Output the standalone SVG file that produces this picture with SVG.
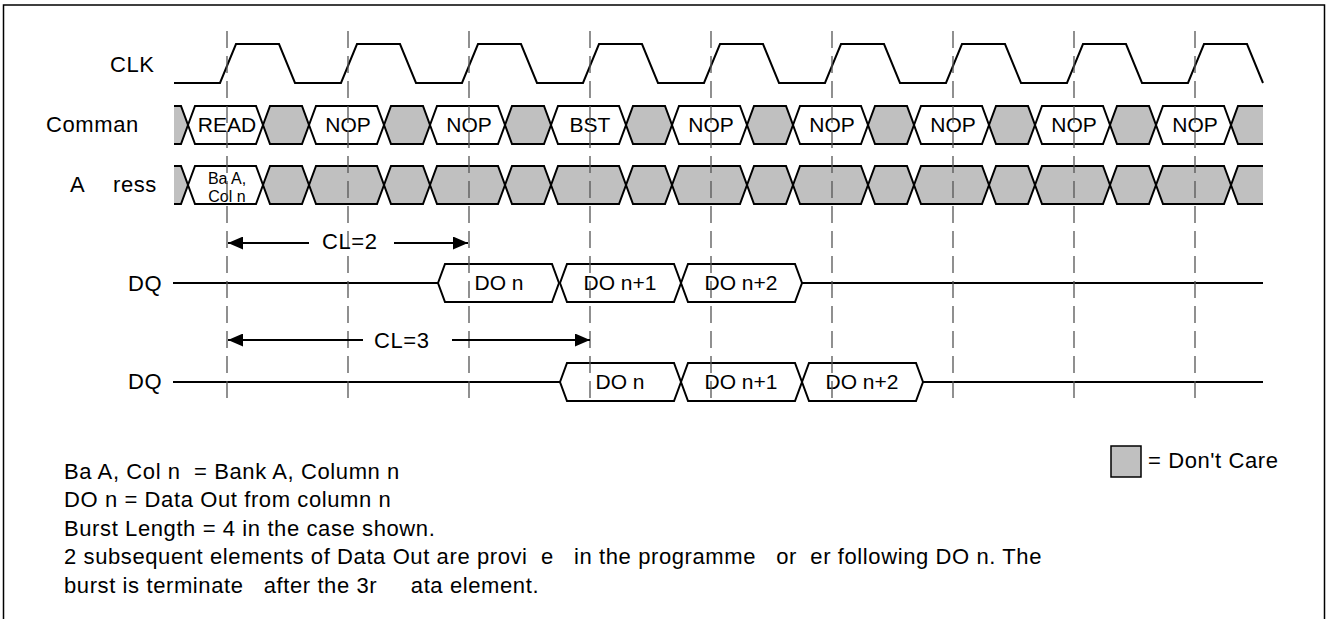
<svg xmlns="http://www.w3.org/2000/svg" xmlns:xlink="http://www.w3.org/1999/xlink" width="1327" height="619" viewBox="0 0 1327 619">
<style>
.sig{fill:none;stroke:#000;stroke-width:2;stroke-linejoin:miter}
.wh{fill:#fff;stroke:#000;stroke-width:2}
.gr{fill:#c0c0c0;stroke:#000;stroke-width:2}
.guide{stroke:#555;stroke-width:1.3;stroke-dasharray:17 8;fill:none}
.lbl{font-family:"Liberation Sans",Arial,sans-serif;font-size:22px;letter-spacing:0.6px;fill:#000;white-space:pre}
.box{font-family:"Liberation Sans",Arial,sans-serif;font-size:21px;fill:#000;text-anchor:middle}
.small{font-family:"Liberation Sans",Arial,sans-serif;font-size:16px;fill:#000;text-anchor:middle}
.dim{stroke:#000;stroke-width:2;fill:none;marker-end:url(#ah)}
</style>
<defs>
<polygon id="w75" points="0,19 7,0 68,0 75,19 68,38 7,38"/>
<polygon id="g46" points="0,19 7,0 39,0 46,19 39,38 7,38"/>
<polygon id="d121" points="0,19 7,0 114,0 121,19 114,38 7,38"/>
<clipPath id="rowclip"><rect x="174" y="0" width="1089" height="619"/></clipPath>
<marker id="ah" markerUnits="userSpaceOnUse" viewBox="0 0 15 13" refX="15" refY="6.5" markerWidth="15" markerHeight="13" orient="auto">
<path d="M0,0 L15,6.5 L0,13 Z" fill="#000"/>
</marker>
</defs>
<rect id="frame" x="3.5" y="5" width="1321" height="640" fill="#fff" stroke="#000" stroke-width="1.5"/>

<g id="clk">
<text class="lbl" x="110" y="72">CLK</text>
<path class="sig" d="M174,83 L220,83 L236,44 L279,44 L295,83 L341,83 L357,44 L400,44 L416,83 L462,83 L478,44 L521,44 L537,83 L583,83 L599,44 L642,44 L658,83 L704,83 L720,44 L763,44 L779,83 L825,83 L841,44 L884,44 L900,83 L946,83 L962,44 L1005,44 L1021,83 L1067,83 L1083,44 L1126,44 L1142,83 L1188,83 L1204,44 L1247,44 L1263,83"/>
</g>

<g id="command">
<text class="lbl" x="46" y="132">Comman</text>
<g clip-path="url(#rowclip)">
<use xlink:href="#g46" class="gr" x="142" y="106"/>
<use xlink:href="#w75" class="wh" x="188" y="106"/>
<use xlink:href="#g46" class="gr" x="263" y="106"/>
<use xlink:href="#w75" class="wh" x="309" y="106"/>
<use xlink:href="#g46" class="gr" x="384" y="106"/>
<use xlink:href="#w75" class="wh" x="430" y="106"/>
<use xlink:href="#g46" class="gr" x="505" y="106"/>
<use xlink:href="#w75" class="wh" x="551" y="106"/>
<use xlink:href="#g46" class="gr" x="626" y="106"/>
<use xlink:href="#w75" class="wh" x="672" y="106"/>
<use xlink:href="#g46" class="gr" x="747" y="106"/>
<use xlink:href="#w75" class="wh" x="793" y="106"/>
<use xlink:href="#g46" class="gr" x="868" y="106"/>
<use xlink:href="#w75" class="wh" x="914" y="106"/>
<use xlink:href="#g46" class="gr" x="989" y="106"/>
<use xlink:href="#w75" class="wh" x="1035" y="106"/>
<use xlink:href="#g46" class="gr" x="1110" y="106"/>
<use xlink:href="#w75" class="wh" x="1156" y="106"/>
<use xlink:href="#g46" class="gr" x="1231" y="106"/>
</g>
<text class="box" x="227" y="132">READ</text>
<text class="box" x="348" y="132">NOP</text>
<text class="box" x="469" y="132">NOP</text>
<text class="box" x="590" y="132">BST</text>
<text class="box" x="711" y="132">NOP</text>
<text class="box" x="832" y="132">NOP</text>
<text class="box" x="953" y="132">NOP</text>
<text class="box" x="1074" y="132">NOP</text>
<text class="box" x="1195" y="132">NOP</text>
</g>

<g id="address">
<text class="lbl" y="192"><tspan x="70">A</tspan><tspan x="113">ress</tspan></text>
<g clip-path="url(#rowclip)">
<use xlink:href="#g46" class="gr" x="142" y="166"/>
<use xlink:href="#w75" class="wh" x="188" y="166"/>
<use xlink:href="#g46" class="gr" x="263" y="166"/>
<use xlink:href="#w75" class="gr" x="309" y="166"/>
<use xlink:href="#g46" class="gr" x="384" y="166"/>
<use xlink:href="#w75" class="gr" x="430" y="166"/>
<use xlink:href="#g46" class="gr" x="505" y="166"/>
<use xlink:href="#w75" class="gr" x="551" y="166"/>
<use xlink:href="#g46" class="gr" x="626" y="166"/>
<use xlink:href="#w75" class="gr" x="672" y="166"/>
<use xlink:href="#g46" class="gr" x="747" y="166"/>
<use xlink:href="#w75" class="gr" x="793" y="166"/>
<use xlink:href="#g46" class="gr" x="868" y="166"/>
<use xlink:href="#w75" class="gr" x="914" y="166"/>
<use xlink:href="#g46" class="gr" x="989" y="166"/>
<use xlink:href="#w75" class="gr" x="1035" y="166"/>
<use xlink:href="#g46" class="gr" x="1110" y="166"/>
<use xlink:href="#w75" class="gr" x="1156" y="166"/>
<use xlink:href="#g46" class="gr" x="1231" y="166"/>
</g>
<text class="small"><tspan x="227" y="183.5">Ba A,</tspan><tspan x="227" y="201.5">Col n</tspan></text>
</g>

<g id="dq1">
<text class="lbl" x="128" y="291">DQ</text>
<path class="sig" d="M173,283 H438 M802,283 H1263"/>
<use xlink:href="#d121" class="wh" x="438" y="264"/>
<use xlink:href="#d121" class="wh" x="560" y="264"/>
<use xlink:href="#d121" class="wh" x="681" y="264"/>
<text class="box" x="499" y="290">DO n</text>
<text class="box" x="620" y="290">DO n+1</text>
<text class="box" x="741" y="290">DO n+2</text>
</g>

<g id="dq2">
<text class="lbl" x="128" y="389">DQ</text>
<path class="sig" d="M173,382 H560 M923,382 H1263"/>
<use xlink:href="#d121" class="wh" x="560" y="363"/>
<use xlink:href="#d121" class="wh" x="681" y="363"/>
<use xlink:href="#d121" class="wh" x="802" y="363"/>
<text class="box" x="620" y="389">DO n</text>
<text class="box" x="741" y="389">DO n+1</text>
<text class="box" x="862" y="389">DO n+2</text>
</g>

<g id="guides">
<path class="guide" d="M227,31 V403 M348,31 V403 M469,31 V403 M590,31 V403 M711,31 V403 M832,31 V403 M953,31 V403 M1074,31 V403 M1195,31 V403"/>
</g>

<g id="connectors">
<path class="dim" d="M309,243 H228"/>
<path class="dim" d="M394,243 H468"/>
<text class="lbl" x="322" y="249">CL=2</text>
<path class="dim" d="M363,340 H228"/>
<path class="dim" d="M452,340 H590"/>
<text class="lbl" x="374" y="348">CL=3</text>
</g>

<g id="legend">
<rect x="1111" y="446" width="30" height="31" fill="#c0c0c0" stroke="#000" stroke-width="1.5"/>
<text class="lbl" x="1148" y="468">= Don't Care</text>
</g>

<g id="notes">
<text class="lbl" xml:space="preserve" x="64" y="479">Ba A, Col n  = Bank A, Column n</text>
<text class="lbl" xml:space="preserve" x="64" y="507">DO n = Data Out from column n</text>
<text class="lbl" xml:space="preserve" x="64" y="536">Burst Length = 4 in the case shown.</text>
<text class="lbl" xml:space="preserve" x="64" y="564">2 subsequent elements of Data Out are provi  e   in the programme   or  er following DO n. The</text>
<text class="lbl" xml:space="preserve" x="64" y="593">burst is terminate   after the 3r     ata element.</text>
</g>
</svg>
